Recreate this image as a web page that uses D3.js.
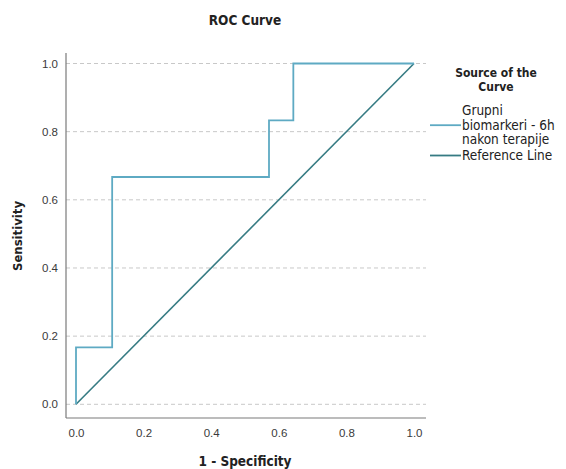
<!DOCTYPE html>
<html>
<head>
<meta charset="utf-8">
<script src="https://cdn.jsdelivr.net/npm/d3@7"></script>
<style>
  html, body { margin: 0; padding: 0; background: #fff; }
  svg { display: block; }
  text { font-family: "Liberation Sans Narrow", "DejaVu Sans Condensed", "Liberation Sans", Arial, sans-serif; }
  .tick text { font-family: "Liberation Sans", Arial, sans-serif; }
</style>
</head>
<body>
<svg id="chart" width="566" height="469"></svg>
<script>
// ROC curve points (1 - specificity, sensitivity)
const rocFpr  = [0, 0,     0.107, 0.107, 0.571, 0.571, 0.643, 0.643, 1];
const rocTpr  = [0, 0.167, 0.167, 0.667, 0.667, 0.833, 0.833, 1,     1];
// Diagonal reference line
const refFpr  = [0, 1];
const refTpr  = [0, 1];
const tickValues = [0, 0.2, 0.4, 0.6, 0.8, 1.0];
const legendLabels = [["Grupni", "biomarkeri - 6h", "nakon terapije"], ["Reference Line"]];
const seriesColors = ["#5eaac3", "#367b83"];

const svg = d3.select("#chart");

const frame = { left: 66, right: 426, top: 53, bottom: 418 };
const x = d3.scaleLinear().domain([0, 1]).range([76, 414]);
const y = d3.scaleLinear().domain([0, 1]).range([404.3, 63.5]);

// Horizontal dashed gridlines
svg.append("g")
  .selectAll("line")
  .data(tickValues)
  .join("line")
  .attr("x1", frame.left).attr("x2", frame.right)
  .attr("y1", d => y(d)).attr("y2", d => y(d))
  .attr("stroke", "#c8c8c8")
  .attr("stroke-width", 1)
  .attr("stroke-dasharray", "4,3");

// Axes (no tick marks, only labels)
const yAxis = d3.axisLeft(y).tickValues(tickValues).tickFormat(d3.format(".1f")).tickSize(0).tickPadding(8);
const xAxis = d3.axisBottom(x).tickValues(tickValues).tickFormat(d3.format(".1f")).tickSize(0).tickPadding(11);

const gy = svg.append("g").attr("transform", `translate(${frame.left},0)`).call(yAxis);
gy.select(".domain").remove();
gy.selectAll("text").attr("font-size", 11.5).attr("fill", "#3a3a3a");

const gx = svg.append("g").attr("transform", `translate(0,${frame.bottom})`).call(xAxis);
gx.select(".domain").remove();
gx.selectAll("text").attr("font-size", 11.5).attr("fill", "#3a3a3a");

// Axis lines
svg.append("line")
  .attr("x1", frame.left).attr("x2", frame.left)
  .attr("y1", frame.top).attr("y2", frame.bottom)
  .attr("stroke", "#7a7a7a").attr("stroke-width", 1.2);
svg.append("line")
  .attr("x1", frame.left).attr("x2", frame.right)
  .attr("y1", frame.bottom).attr("y2", frame.bottom)
  .attr("stroke", "#7a7a7a").attr("stroke-width", 1.2);

const line = d3.line().x(d => x(d[0])).y(d => y(d[1]));

// Reference line
svg.append("path")
  .datum(d3.zip(refFpr, refTpr))
  .attr("d", line)
  .attr("fill", "none")
  .attr("stroke", seriesColors[1])
  .attr("stroke-width", 1.6);

// ROC curve
svg.append("path")
  .datum(d3.zip(rocFpr, rocTpr))
  .attr("d", line)
  .attr("fill", "none")
  .attr("stroke", seriesColors[0])
  .attr("stroke-width", 1.8);

// Titles
svg.append("text")
  .attr("x", 245).attr("y", 25)
  .attr("text-anchor", "middle")
  .attr("font-size", 13.5).attr("font-weight", "bold").attr("fill", "#222")
  .text("ROC Curve");

svg.append("text")
  .attr("x", 245).attr("y", 466)
  .attr("text-anchor", "middle")
  .attr("font-size", 13.5).attr("font-weight", "bold").attr("fill", "#222")
  .text("1 - Specificity");

svg.append("text")
  .attr("transform", "translate(22,236) rotate(-90)")
  .attr("text-anchor", "middle")
  .attr("font-size", 13).attr("font-weight", "bold").attr("fill", "#222")
  .text("Sensitivity");

// Legend
const legend = svg.append("g");
legend.append("text")
  .attr("x", 496).attr("y", 77)
  .attr("text-anchor", "middle")
  .attr("font-size", 12).attr("font-weight", "bold").attr("fill", "#222")
  .selectAll("tspan")
  .data(["Source of the", "Curve"])
  .join("tspan")
  .attr("x", 496)
  .attr("dy", (d, i) => i === 0 ? 0 : 13.5)
  .text(d => d);

const itemTops = [115, 160];
legendLabels.forEach((lines, i) => {
  const midLine = Math.floor(lines.length / 2);
  const swatchY = itemTops[i] + midLine * 14.7 - 4.5;
  legend.append("line")
    .attr("x1", 430).attr("x2", 461)
    .attr("y1", swatchY).attr("y2", swatchY)
    .attr("stroke", seriesColors[i]).attr("stroke-width", 1.8);
  legend.append("text")
    .attr("x", 462).attr("y", itemTops[i])
    .attr("font-size", 13.5).attr("fill", "#222")
    .selectAll("tspan")
    .data(lines)
    .join("tspan")
    .attr("x", 462)
    .attr("dy", (d, j) => j === 0 ? 0 : 14.7)
    .text(d => d);
});
</script>
</body>
</html>
